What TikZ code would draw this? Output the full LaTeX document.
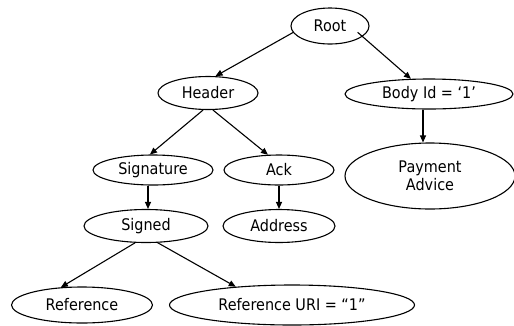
\documentclass[tikz,border=0pt]{standalone}
\usepackage{fontspec}
\setmainfont{DejaVu Sans}[FakeStretch=0.9]
\usetikzlibrary{shapes.geometric,arrows.meta}
\begin{document}
\begin{tikzpicture}[x=1pt,y=-1pt,
  oval/.style={ellipse, draw, line width=1.1pt, inner sep=0pt,
               font=\fontsize{16}{18}\selectfont, align=center},
  arr/.style={-{Triangle[length=7pt,width=6pt]}, line width=1.1pt}]
\useasboundingbox (0,0) rectangle (514,325);

% tree nodes
\node[oval, minimum width=78pt,  minimum height=36pt] (root)    at (330,26)  {Root};
\node[oval, minimum width=100pt, minimum height=33pt] (header)  at (208,93)  {Header};
\node[oval, minimum width=168pt, minimum height=30pt] (body)    at (429,94)  {Body Id = ‘1’};
\node[oval, minimum width=170pt, minimum height=66pt] (payment) at (430,176) {Payment\\Advice};
\node[oval, minimum width=120pt, minimum height=30pt] (sig)     at (153,170) {Signature};
\node[oval, minimum width=110pt, minimum height=30pt] (ack)     at (279,170) {Ack};
\node[oval, minimum width=124pt, minimum height=33pt] (signed)  at (146,226) {Signed};
\node[oval, minimum width=112pt, minimum height=33pt] (address) at (279,226) {Address};
\node[oval, minimum width=141pt, minimum height=36pt] (ref)     at (82,305)  {Reference};
\node[oval, minimum width=245pt, minimum height=40pt] (refuri)  at (292,305) {Reference URI = “1”};

% edges
\draw[arr] (root.190) -- (header.66);
\draw[arr, shorten <=-6.5pt] (root.-18) -- (body.140);
\draw[arr] (header.254) -- (sig.101);
\draw[arr] (header.286) -- (ack.126);
\draw[arr] ([xshift=-6pt]body.south) -- ([xshift=-6pt]body.south |- payment.north);
\draw[arr] ([xshift=-5pt]sig.south) -- ([xshift=-5pt]sig.south |- signed.north);
\draw[arr] (ack.south) -- (address.north);
\draw[arr] (signed.237) -- (ref.140);
\draw[arr] (signed.305) -- (refuri.162);
\end{tikzpicture}
\end{document}
